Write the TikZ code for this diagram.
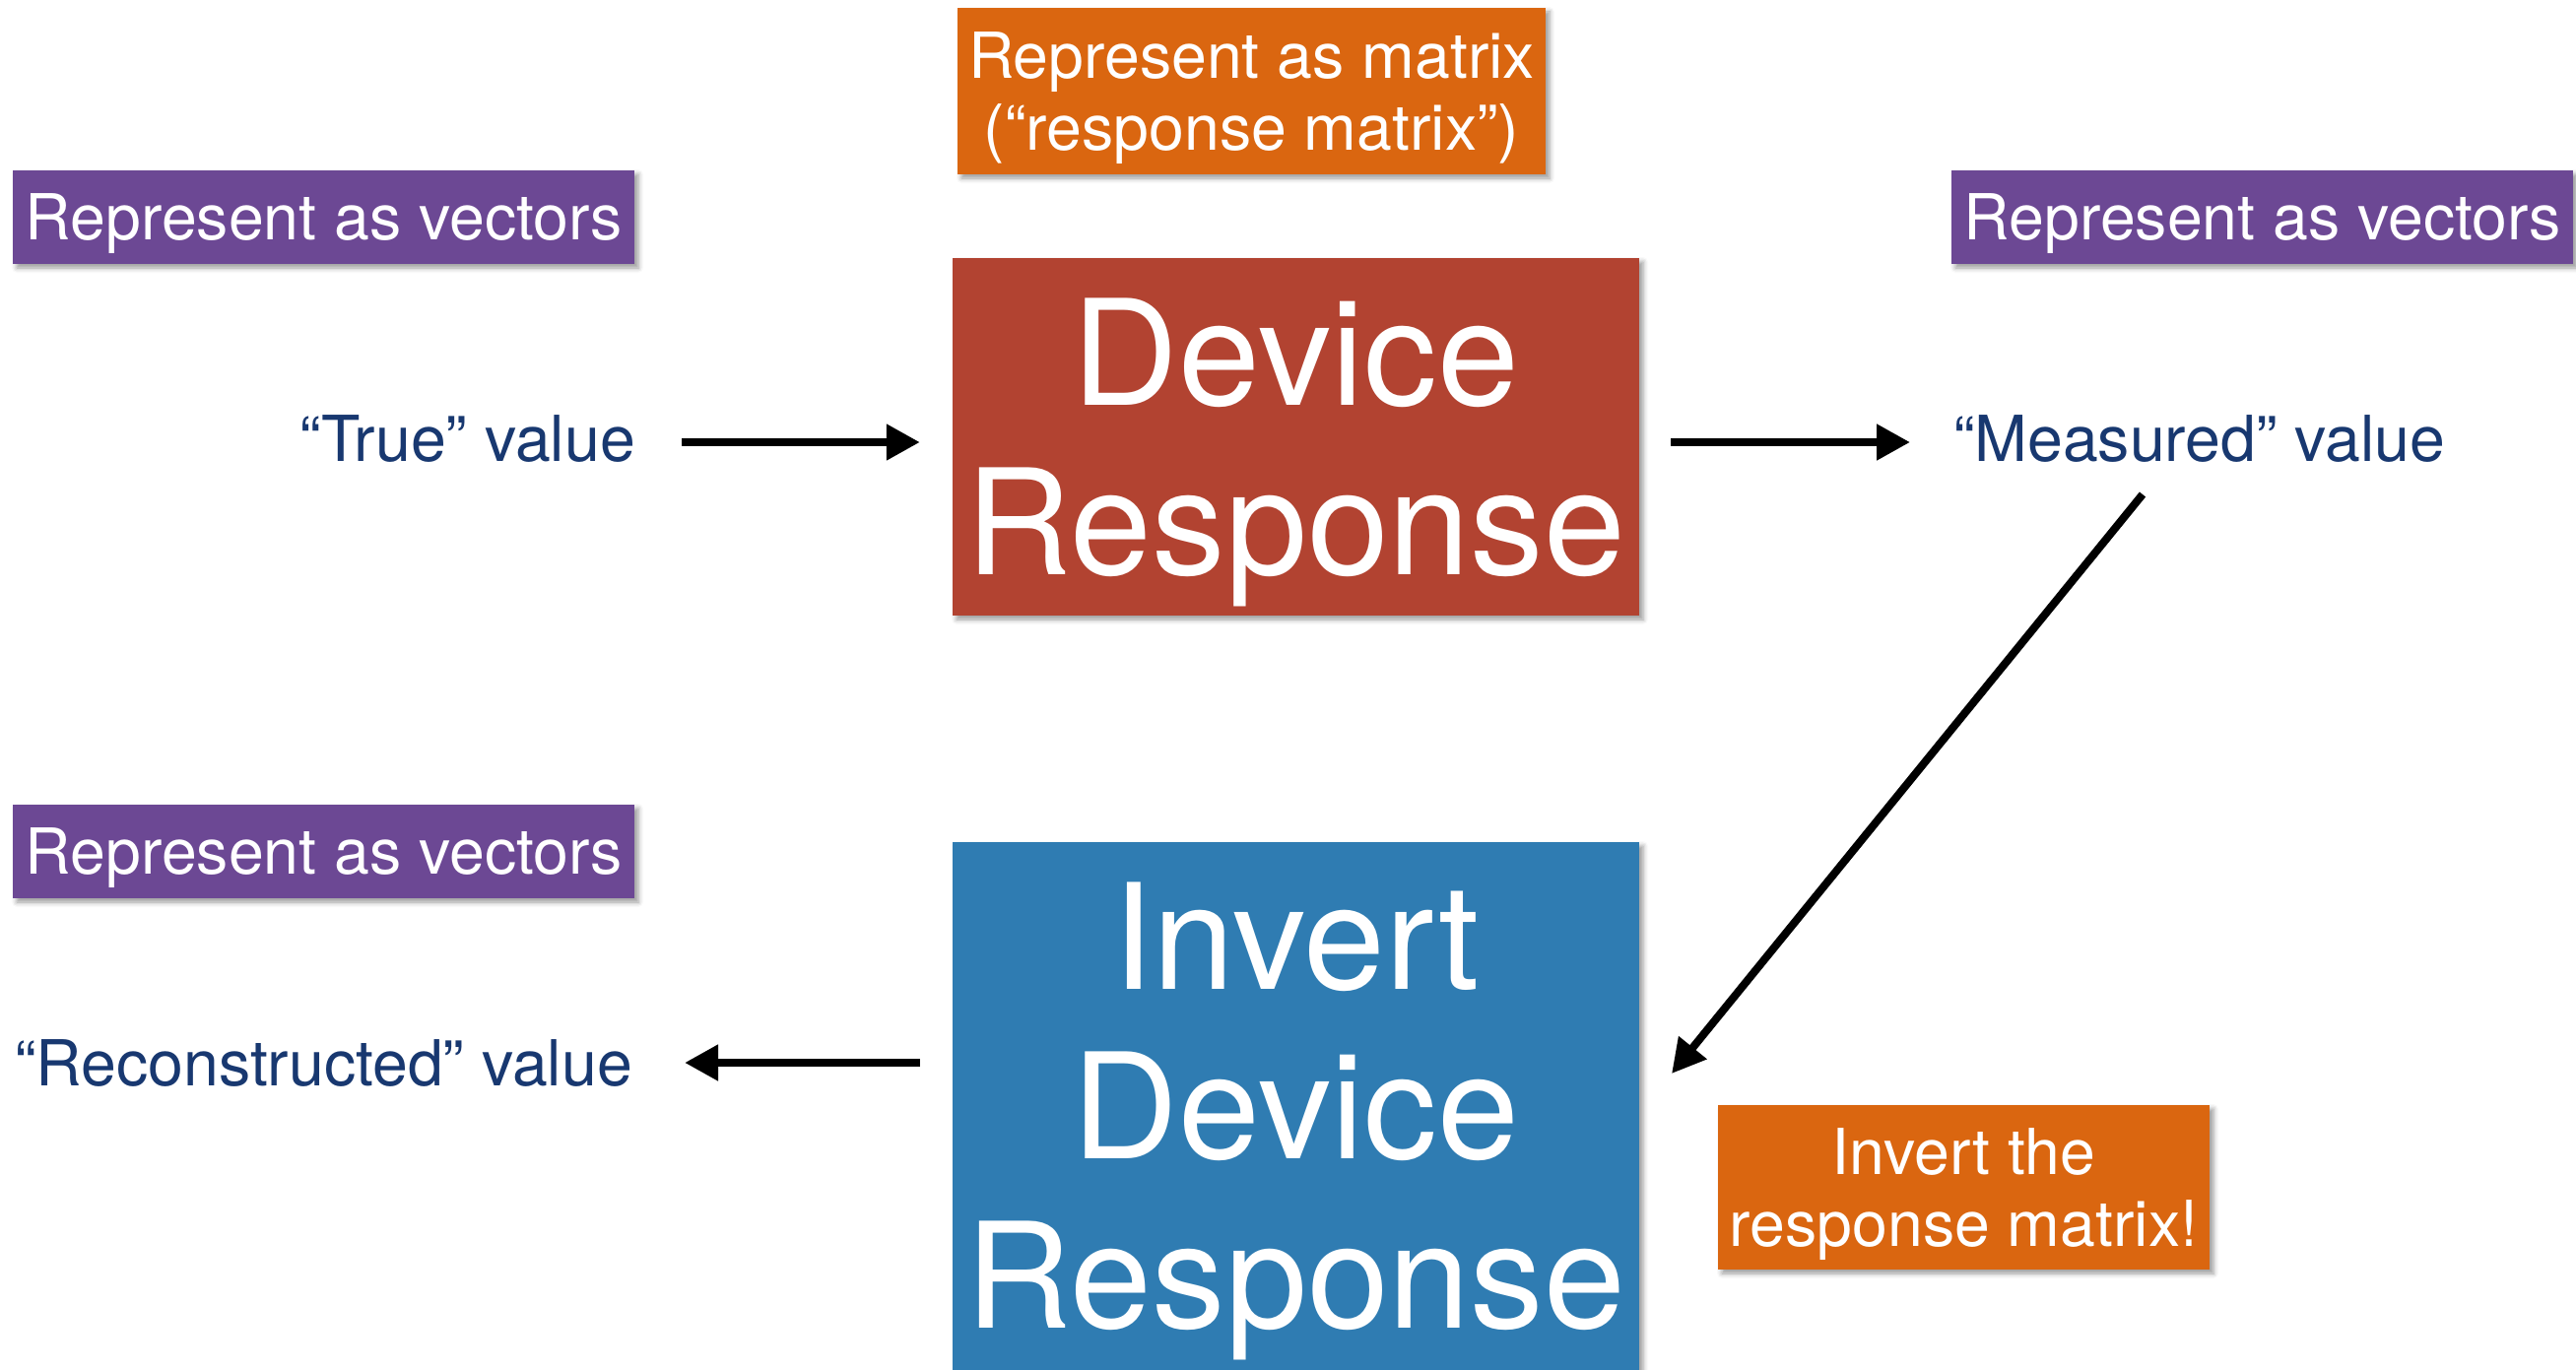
\documentclass[tikz,border=0pt]{standalone}
\usepackage{fontspec}
\setmainfont{TeX Gyre Heros}
\usetikzlibrary{arrows.meta,shadows.blur}
\definecolor{tagpurple}{RGB}{108,72,148}
\definecolor{tagorange}{RGB}{218,102,16}
\definecolor{devred}{RGB}{178,67,49}
\definecolor{invblue}{RGB}{47,124,178}
\definecolor{valblue}{RGB}{24,56,112}
\begin{document}
\begin{tikzpicture}[x=1pt,y=-1pt,
  card/.style={rectangle, inner sep=0pt,
    blur shadow={shadow xshift=4pt, shadow yshift=-4pt, shadow blur radius=5pt, shadow opacity=40}},
  smallfont/.style={font=\fontsize{64.4}{73}\selectfont},
  bigfont/.style={font=\fontsize{149}{172}\selectfont},
  tagtext/.style={smallfont, text=white, align=center, inner sep=0pt, yshift=-7pt},
  bigtext/.style={bigfont, text=white, align=center, inner sep=0pt, yshift=-16pt},
  valtext/.style={smallfont, text=valblue, inner sep=0pt},
  arr/.style={line width=8pt, -{Triangle[length=34pt,width=35pt]}}]

\useasboundingbox (0,0) rectangle (2615,1391);

% purple "vectors" tags
\node[card, fill=tagpurple, minimum width=631, minimum height=95] (vtl) at (328.5,220.5) {};
\node[tagtext] (vtltxt) at (vtl.center) {Represent as vectors};
\node[card, fill=tagpurple, minimum width=631, minimum height=95] (vtr) at (2296.5,220.5) {};
\node[tagtext] (vtrtxt) at (vtr.center) {Represent as vectors};
\node[card, fill=tagpurple, minimum width=631, minimum height=95] (vbl) at (328.5,864.5) {};
\node[tagtext] (vbltxt) at (vbl.center) {Represent as vectors};

% orange "matrix" tags
\node[card, fill=tagorange, minimum width=597, minimum height=169] (mtop) at (1270.5,92.5) {};
\node[tagtext] (mtoptxt) at (mtop.center) {Represent as matrix\\(“response matrix”)};
\node[card, fill=tagorange, minimum width=499, minimum height=167] (minv) at (1993.5,1205.5) {};
\node[tagtext] (minvtxt) at (minv.center) {Invert the\\response matrix!};

% main blocks
\node[card, fill=devred, minimum width=697, minimum height=363] (dev) at (1315.5,443.5) {};
\node[bigtext] (devtxt) at (dev.center) {Device\\Response};
\node[card, fill=invblue, minimum width=697, minimum height=565] (inv) at (1315.5,1137.5) {};
\node[bigtext] (invtxt) at (1315.5,1122) {Invert\\Device\\Response};

% values
\node[valtext, anchor=base east] (truev) at (645,468) {“True” value};
\node[valtext, anchor=base west] (meas) at (1983,468) {“Measured” value};
\node[valtext, anchor=base west] (reco) at (15,1102) {“Reconstructed” value};

% connectors
\draw[arr, shorten <=47pt, shorten >=33pt] ([yshift=-4pt]truev.east) -- ([yshift=-4pt]truev.east -| dev.west);
\draw[arr, shorten <=32pt, shorten >=44pt] ([yshift=-4pt]meas.west -| dev.east) -- ([yshift=-4pt]meas.west);
\draw[arr, shorten <=33pt, shorten >=53pt] (reco.east -| inv.west) -- (reco.east);
\coordinate (dgs) at (2175,502);
\coordinate (dge) at (1697,1090);
\draw[arr] (dgs) -- (dge);
\end{tikzpicture}
\end{document}
